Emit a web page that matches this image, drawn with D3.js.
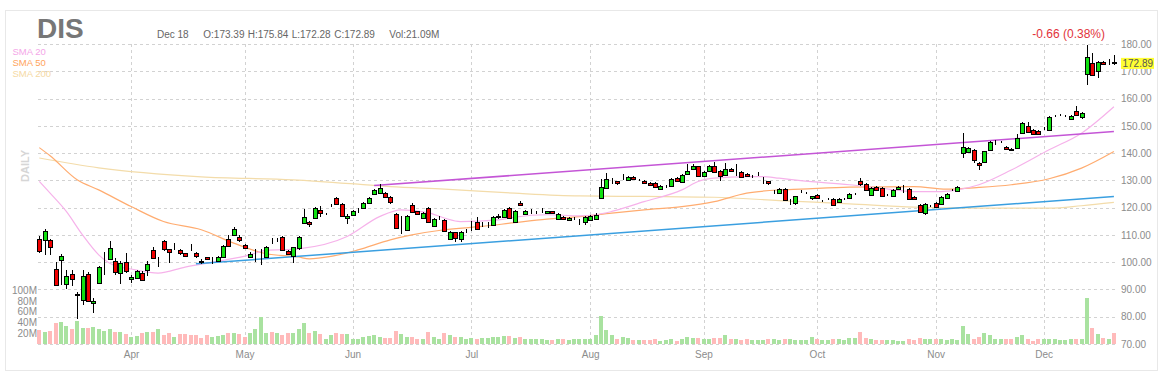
<!DOCTYPE html>
<html><head><meta charset="utf-8">
<script src="https://cdn.jsdelivr.net/npm/d3@7/dist/d3.min.js"></script>
<style>body{margin:0;background:#fff;overflow:hidden} svg{display:block;font-family:Arial,"Liberation Sans",sans-serif}</style>
</head><body><svg id="c" width="1166" height="378"></svg>
<script>
const ticker = "DIS";
const infoDate = "Dec 18";
const infoOHLC = ["O:173.39", "H:175.84", "L:172.28", "C:172.89"];
const infoVol = "Vol:21.09M";
const changeText = "-0.66 (0.38%)";
const lastPrice = 172.89;

const openP = [108.6,108.2,108.2,97.5,100.9,91.7,95.8,88.0,85.9,95.8,
85.1,92.3,101.0,101.1,100.3,96.0,100.0,93.6,94.2,96.2,
97.2,104.5,101.1,107.6,104.7,105.9,104.4,103.2,106.6,103.3,
100.5,101.8,101.2,100.5,102.1,108.6,110.0,109.2,106.4,102.0,
101.5,101.2,101.8,108.7,108.2,109.1,104.2,102.0,104.9,114.2,
114.9,116.4,119.1,117.7,120.8,123.5,121.3,116.2,117.1,119.4,
119.8,121.5,124.9,125.2,125.3,123.9,117.7,115.8,111.6,121.0,
118.6,116.5,119.8,113.1,116.7,115.5,108.8,110.9,108.8,111.2,
113.6,114.7,114.1,113.7,113.7,116.5,116.5,119.8,114.9,121.6,
117.7,118.6,118.0,118.6,118.0,118.6,115.8,116.7,115.3,116.0,
115.3,114.9,115.5,115.8,123.5,127.1,129.9,129.6,131.2,130.4,
131.4,130.2,129.8,129.2,129.0,126.8,127.7,128.0,130.8,129.6,
132.6,134.2,135.1,131.8,133.2,135.1,133.6,132.0,134.1,133.2,
133.2,132.4,131.4,132.0,130.2,129.6,125.9,125.5,126.8,122.0,
121.4,125.9,125.3,123.2,124.7,122.3,123.1,123.1,122.1,123.1,
123.8,125.1,129.6,128.7,124.7,127.5,127.1,124.7,124.4,126.8,
127.7,126.8,123.8,121.0,118.0,120.7,121.6,121.4,123.5,126.5,
125.9,140.0,140.2,141.2,136.3,136.5,141.2,144.0,144.0,142.4,
141.4,142.0,147.7,150.0,148.5,148.1,149.1,148.5,153.6,154.0,
153.6,152.5,155.6,153.2,169.3,173.2,170.2,173.5,173.2,173.39];

const highP = [109.5,112.3,108.6,99.9,103.0,97.2,97.2,88.9,97.2,96.4,
87.0,98.5,103.9,107.6,101.5,100.3,103.3,95.4,97.0,96.6,
100.3,105.7,102.0,108.2,105.0,107.0,104.8,103.5,106.7,103.6,
101.2,102.0,102.0,102.2,106.3,110.0,113.0,109.8,106.8,103.8,
104.8,104.8,105.8,108.8,108.9,109.5,104.5,105.7,109.6,119.4,
115.2,120.3,120.5,118.0,121.5,123.9,121.6,117.5,119.0,120.0,
122.0,123.8,126.8,128.5,125.6,124.2,118.0,117.0,117.2,121.8,
118.8,118.5,120.2,116.2,117.0,115.8,111.5,111.2,111.5,112.0,
115.0,116.5,114.8,114.9,117.0,117.5,119.6,120.2,119.2,122.4,
119.2,119.5,118.6,119.8,118.9,118.9,118.0,117.0,116.5,116.6,
116.0,117.0,117.4,118.2,130.5,132.6,130.8,129.9,132.3,131.7,
131.7,130.6,130.1,129.5,129.3,128.3,128.2,130.7,131.1,132.3,
136.0,135.9,135.4,133.5,135.5,136.6,133.9,136.3,134.4,136.0,
133.5,132.7,131.8,133.0,131.3,129.9,126.5,127.1,127.1,123.3,
124.4,126.3,125.7,124.4,125.0,122.8,123.5,123.4,123.4,123.5,
125.4,125.5,131.0,129.0,127.4,127.8,127.4,125.1,126.8,128.0,
128.3,127.1,124.1,121.3,121.7,121.1,121.9,124.1,125.2,127.0,
127.8,147.3,142.1,141.5,136.6,140.9,144.5,144.8,144.4,142.7,
141.7,147.0,151.5,151.4,148.8,148.4,149.6,153.5,154.0,154.4,
154.0,153.9,157.3,154.9,179.6,176.8,173.8,173.8,174.4,175.84];

const lowP = [103.5,102.7,102.7,91.5,91.7,90.1,91.4,79.1,84.4,85.5,
81.5,92.0,95.4,100.8,95.4,92.1,96.0,92.3,93.8,93.0,
95.0,101.0,98.4,104.0,99.7,104.5,102.8,101.8,104.2,101.6,
99.3,100.8,99.5,100.0,101.9,105.8,109.5,107.5,105.0,101.5,
100.0,99.0,101.5,106.5,107.5,104.2,102.5,99.7,104.6,114.0,
112.8,116.0,116.5,117.2,120.2,121.0,116.6,114.0,116.8,118.0,
119.5,121.2,124.5,125.0,123.7,121.5,112.2,110.5,111.3,117.9,
117.3,116.0,114.2,112.8,115.5,111.3,108.5,107.5,107.5,110.8,
111.6,112.0,113.0,112.5,113.3,116.0,116.2,116.0,114.6,120.5,
117.3,117.8,117.5,118.0,117.7,117.7,115.5,115.6,115.0,115.6,
113.5,113.8,115.2,115.5,123.3,126.8,128.5,128.4,130.3,130.1,
130.5,129.8,128.7,128.3,127.4,126.5,127.3,127.7,129.3,129.3,
132.3,133.9,131.1,131.5,132.9,132.6,129.7,131.7,132.9,131.6,
131.1,131.3,131.0,131.6,128.7,128.4,125.0,125.2,122.6,121.0,
121.1,125.5,125.0,122.9,123.2,121.9,122.8,120.7,121.8,122.8,
123.5,124.8,128.1,126.2,124.4,126.2,123.8,124.4,124.1,126.5,
125.5,122.9,122.8,118.3,117.4,120.4,119.9,121.1,123.2,126.0,
125.6,138.1,139.9,136.3,133.8,136.2,140.9,143.0,143.7,141.2,
140.6,141.7,147.4,147.6,146.6,146.6,148.5,148.2,153.2,153.6,
153.2,152.2,153.7,152.4,165.0,168.6,167.4,172.6,172.3,172.28];

const closeP = [104.3,111.4,105.5,91.7,102.3,94.8,93.8,88.4,94.8,85.9,
85.9,98.2,101.1,105.2,96.2,99.7,96.6,94.5,96.6,93.8,
99.3,101.5,101.2,104.5,103.7,106.0,103.2,102.2,106.5,102.2,
100.0,101.1,101.3,101.8,106.0,106.1,112.2,108.2,105.4,103.1,
101.6,101.3,105.4,108.6,108.3,104.5,103.0,105.4,109.1,116.4,
114.1,120.0,118.0,117.8,120.9,121.3,116.9,117.1,118.6,119.5,
121.6,123.5,126.5,127.1,124.0,121.9,112.5,115.9,116.8,118.6,
117.6,118.2,114.5,115.8,116.8,111.6,111.2,108.8,111.2,111.3,
113.7,112.2,114.2,113.8,116.5,117.0,119.2,116.2,118.9,120.8,
118.9,118.7,118.1,118.7,118.6,118.0,117.7,115.9,116.2,116.1,
115.4,116.7,117.0,117.4,127.5,130.4,130.0,128.7,131.3,131.4,
130.8,130.3,129.0,128.6,127.7,128.0,127.8,130.4,129.6,132.0,
133.6,135.3,131.4,133.2,135.1,132.9,131.6,134.1,133.2,133.3,
131.4,131.6,131.5,132.1,130.3,128.7,126.0,126.8,122.9,122.1,
124.1,126.0,125.4,124.1,123.5,122.4,123.2,121.0,123.1,123.2,
125.1,125.2,128.4,126.5,127.1,126.5,124.1,124.8,126.5,127.7,
127.8,123.2,123.1,118.6,121.4,120.8,120.2,123.8,124.9,126.6,
127.5,142.2,141.8,137.5,135.4,140.6,144.2,144.1,144.1,141.5,
140.9,145.5,151.2,147.9,146.9,146.9,149.2,153.2,153.7,154.1,
153.7,153.6,154.0,154.6,175.4,168.9,173.5,172.9,173.3,172.89];

// volume in millions
const volume = [26,23,23.5,38,40,33,27,42.6,29.6,29.6,
31,27,24.7,28,22.8,21.6,17.9,13,14,19.8,
22.8,22.8,28,16.7,20.4,13.6,17.9,17.9,16,16,
11.7,16,13.6,14.8,17.3,19.8,19.8,17.9,13.6,19.8,
28,49.4,20.4,22.8,19.8,16.7,20.4,20.4,28,38,
19.8,24,17.9,9.9,16,19.8,17.9,17.9,9.9,9.9,
13,14.8,16,13,11.7,11.7,24.7,17.9,13,13,
8.6,9.9,22.8,13,9.9,20.4,16,13.6,13,9.9,
11.7,9.9,11.7,11.7,13,13,14.8,14.8,11.7,13.6,
9.9,8.6,8.6,8.6,6.8,6.8,8.6,9.9,6.8,9.9,
9.9,9.9,9.9,16,51.9,26,16,8.6,13,11.7,
6.8,6.8,6.8,6.8,8.6,5,6.8,8.6,5,8.6,
13,11.7,11.7,8.6,8.6,11.7,11.7,16,8.6,9.9,
6.8,8.6,6.8,6.8,6.8,9.9,9.9,6.8,8.6,8.6,
6.8,6.8,6.8,13,8.6,6.8,6.8,8.6,9.9,6.8,
11.7,11.7,22.2,11.7,8.6,6.8,6.8,6.8,6.8,5,
5,8.6,6.8,11.7,9.9,8.6,9.9,8.6,6.8,8.6,
6.8,34,17.9,9.9,13,20.4,16,9.9,9.9,8.6,
8.6,13,16,8.6,5.6,9.9,8.6,9.9,8.6,6.8,
6.8,8.6,9.9,8.6,84.6,30,17.9,11.7,8.6,21.09];

const monthLabels = ["Apr","May","Jun","Jul","Aug","Sep","Oct","Nov","Dec"];
const monthStartIdx = [17,38,58,80,102,123,144,166,186];
const priceTicks = [70,80,90,100,110,120,130,140,150,160,170,180];
const volumeTicks = [20,40,60,80,100];

const sma20Idx = [0,2,5,8,11,14,17,22,27,33,39,42,48,57,63,67,72,75,78,85,88,94,100,103,106,112,119,122,125,131,134,137,141,150,156,162,167,170,174,180,187,193,199];
const sma20Val = [129.6,125.3,118.6,110.0,102.7,98.7,97.5,96.0,98.2,100.3,102.7,104.3,104.9,109.4,116.7,119.2,118.2,116.2,114.9,115.5,116.5,117.4,117.0,117.4,118.6,122.2,126.5,129.6,130.8,131.4,131.4,130.8,129.9,128.4,127.1,125.9,125.9,126.5,128.4,133.8,141.2,147.3,157.0];
const sma50Idx = [0,2,7,11,17,23,30,36,42,48,50,54,59,65,69,75,82,88,94,100,106,112,119,125,131,137,141,150,162,168,174,180,187,193,199];
const sma50Val = [142.0,139.0,130.2,126.5,120.4,114.9,111.9,107.0,103.1,101.9,101.2,102.1,104.5,108.2,110.0,111.9,113.1,114.5,115.8,116.7,118.0,119.2,120.4,122.2,125.3,126.5,126.8,127.5,127.7,126.8,127.4,128.4,130.6,134.5,140.6];
const sma200Idx = [0,11,30,47,59,65,75,88,100,112,125,137,150,162,174,187,193,199];
const sma200Val = [138.2,134.6,131.3,130.2,128.6,127.7,126.8,125.3,124.3,124.1,123.8,122.6,121.4,120.2,119.8,119.8,120.7,121.9];

const trendUpper = [[62,128.1],[199,147.9]];
const trendLower = [[29,99.4],[199,124.1]];

const svg = d3.select("#c");
const x = d3.scaleLinear().domain([0, 199]).range([39.3, 1113.9]);
const y = d3.scaleLinear().domain([70, 180]).range([344, 44]);
const yv = d3.scaleLinear().domain([0, 100]).range([344, 290]);

// frame
svg.append("rect").attr("x",5.5).attr("y",10.5).attr("width",1152).attr("height",360)
  .attr("fill","#fff").attr("stroke","#e8e8e8");

// grid
const grid = svg.append("g").attr("stroke","#d2d2d2").attr("stroke-dasharray","3,3").attr("shape-rendering","crispEdges");
grid.selectAll("line.h").data(priceTicks).join("line").attr("class","h")
  .attr("x1",38).attr("x2",1116).attr("y1",d=>Math.round(y(d))+0.5).attr("y2",d=>Math.round(y(d))+0.5);
grid.selectAll("line.v").data(monthStartIdx).join("line").attr("class","v")
  .attr("y1",44).attr("y2",345).attr("x1",d=>Math.round(x(d))+0.5).attr("x2",d=>Math.round(x(d))+0.5);

const axisFont = "Arial, 'Liberation Sans', sans-serif";
// price axis
const pa = svg.append("g").attr("transform","translate(1117,0)")
  .call(d3.axisRight(y).tickValues(priceTicks).tickFormat(d3.format(".2f")).tickSize(0).tickPadding(4));
pa.select(".domain").remove();
pa.selectAll("text").attr("fill","#8c8c8c").style("font-size","10px").style("font-family",axisFont);

// month axis
const ma = svg.append("g").attr("transform","translate(0,349)")
  .call(d3.axisBottom(x).tickValues(monthStartIdx).tickFormat((d,i)=>monthLabels[i]).tickSize(0).tickPadding(2));
ma.select(".domain").remove();
ma.selectAll("text").attr("fill","#8c8c8c").style("font-size","10px").style("font-family",axisFont);

// volume axis labels
const va = svg.append("g").attr("transform","translate(37,0)")
  .call(d3.axisLeft(yv).tickValues(volumeTicks).tickFormat(d=>d+"M").tickSize(0).tickPadding(0));
va.select(".domain").remove();
va.selectAll("text").attr("fill","#8c8c8c").style("font-size","10px").style("font-family",axisFont);

// volume bars
const idx = d3.range(closeP.length);
const up = i => closeP[i] >= openP[i];
svg.append("g").attr("shape-rendering","crispEdges").selectAll("rect").data(idx).join("rect")
  .attr("x", i => Math.round(x(i)) - 2)
  .attr("width", 4)
  .attr("y", i => yv(volume[i]))
  .attr("height", i => yv(0) - yv(volume[i]))
  .attr("fill", i => up(i) ? "#a9e2a0" : "#ffbaba");

// SMA lines
function smaLine(ids, vals, color, w) {
  const pts = ids.map((d,k)=>[x(d), y(vals[k])]);
  svg.append("path").datum(pts)
    .attr("d", d3.line().curve(d3.curveMonotoneX))
    .attr("fill","none").attr("stroke",color).attr("stroke-width",w);
}
smaLine(sma200Idx, sma200Val, "#f3dcaa", 1.2);
smaLine(sma50Idx, sma50Val, "#ffac70", 1.2);
smaLine(sma20Idx, sma20Val, "#f6b2ea", 1.2);

// trend lines
function tLine(p, color) {
  svg.append("line")
    .attr("x1", x(p[0][0])).attr("y1", y(p[0][1]))
    .attr("x2", x(p[1][0])).attr("y2", y(p[1][1]))
    .attr("stroke", color).attr("stroke-width", 1.5);
}
tLine(trendUpper, "#c455d6");
tLine(trendLower, "#3a9fe0");

// candles
const cg = svg.append("g").attr("shape-rendering","crispEdges");
cg.selectAll("line").data(idx).join("line")
  .attr("x1", i => Math.round(x(i)) + 0.5).attr("x2", i => Math.round(x(i)) + 0.5)
  .attr("y1", i => Math.round(y(highP[i]))).attr("y2", i => Math.round(y(lowP[i])))
  .attr("stroke","#000").attr("stroke-width",1);
cg.selectAll("rect").data(idx).join("rect")
  .attr("x", i => Math.round(x(i)) - 1.5)
  .attr("width", 4)
  .attr("y", i => Math.round(y(Math.max(openP[i], closeP[i]))) + 0.5)
  .attr("height", i => Math.max(0, Math.round(Math.abs(y(openP[i]) - y(closeP[i])))))
  .attr("fill", i => up(i) ? "#10e010" : "#f00000")
  .attr("stroke","#000").attr("stroke-width",1);

// header texts
svg.append("text").attr("x",37).attr("y",38).text(ticker)
  .attr("fill","#777").style("font-size","28px").style("font-weight","bold");
const info = svg.append("g").attr("fill","#666").style("font-size","10px");
info.append("text").attr("x",157).attr("y",37.5).text(infoDate);
const infoX = [203.3, 247.7, 291.7, 334.3];
infoOHLC.forEach((t,k)=>info.append("text").attr("x",infoX[k]).attr("y",37.5).text(t));
info.append("text").attr("x",389.3).attr("y",37.5).text(infoVol);

svg.append("text").attr("x",1105).attr("y",38).attr("text-anchor","end").text(changeText)
  .attr("fill","#e2333b").style("font-size","12px");

// legend
const legend = [["SMA 20","#f4a6e8"],["SMA 50","#ffa45c"],["SMA 200","#f5d9a3"]];
legend.forEach((l,k)=>svg.append("text").attr("x",12.5).attr("y",55+k*10.8).text(l[0])
  .attr("fill",l[1]).style("font-size","9.5px"));

// DAILY label
svg.append("text").attr("transform","translate(29,166) rotate(-90)").attr("text-anchor","middle")
  .text("DAILY").attr("fill","#d6d6d6").style("font-size","11px").style("font-weight","bold");

// last price box (drawn over the price axis, as in the original)
const lp = svg.append("g");
lp.append("rect").attr("x",1121).attr("y",y(lastPrice)-5.5).attr("width",33).attr("height",11).attr("fill","#ffff33");
lp.append("text").attr("x",1122.5).attr("y",y(lastPrice)+3.5).text(lastPrice.toFixed(2))
  .attr("fill","#555").style("font-size","10px");
</script></body></html>
